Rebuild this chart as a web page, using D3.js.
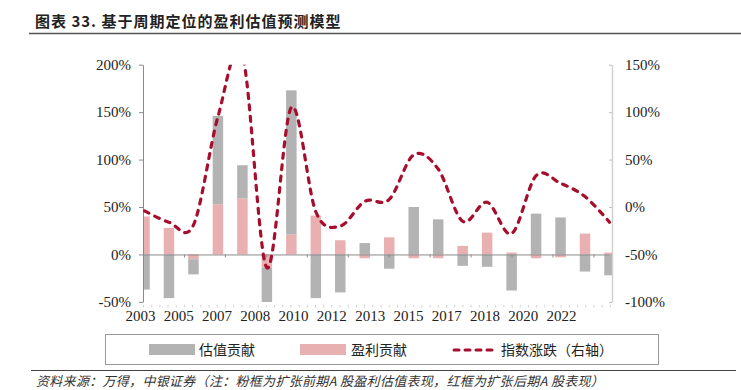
<!DOCTYPE html>
<html>
<head>
<meta charset="utf-8">
<script src="https://cdn.jsdelivr.net/npm/d3@7"></script>
<style>
  body { margin: 0; background: #fff; }
  svg { display: block; }
</style>
</head>
<body>
<svg id="chart" width="741" height="390"></svg>
<script>
// data
const years = ["2003", "2004", "2005", "2006", "2007", "2008", "2009", "2010", "2011", "2012",
  "2013", "2014", "2015", "2016", "2017", "2018", "2019", "2020", "2021", "2022"];
const valuation = [-37, -46, -16, 93, 35, -38, 152, -46, -40, 12, -15, 50, 37, -12, -13, -38, 43, 39, -18, -22];
const earnings = [40, 28, -5, 53, 59, -14, 21, 41, 15, -4, 18, -4, -4, 9, 23, 2, -4, -3, 22, 2];
const indexChg = [-4, -16, -19, 95, 160, -64, 105, -5, -20, 6, 8, 55, 40, -15, 5, -28, 33, 25, 11, -16];
const xLabels = ["2003", "2005", "2007", "2008", "2010", "2012", "2013", "2015", "2017", "2018", "2020", "2022"];
const leftTicks = [-50, 0, 50, 100, 150, 200];
const rightTicks = [-100, -50, 0, 50, 100, 150];

const svg = d3.select("#chart");
const plotL = 143, plotR = 612, plotT = 64.7, plotB = 301.9;

const yL = d3.scaleLinear().domain([-50, 200]).range([plotB, plotT]);
const yR = d3.scaleLinear().domain([-100, 150]).range([plotB, plotT]);
const x = d3.scalePoint().domain(years).range([144.5, 609.5]);
const barW = 10.5;

// title
svg.append("text")
  .attr("x", 35)
  .attr("y", 27)
  .attr("font-family", "Noto Sans CJK SC")
  .attr("font-weight", "bold")
  .attr("font-size", 15)
  .attr("letter-spacing", 1)
  .attr("fill", "#222")
  .text("图表 33. 基于周期定位的盈利估值预测模型");
svg.append("line")
  .attr("x1", 29).attr("x2", 741)
  .attr("y1", 33.5).attr("y2", 33.5)
  .attr("stroke", "#555")
  .attr("stroke-width", 1.5);

svg.append("clipPath").attr("id", "plot")
  .append("rect")
  .attr("x", plotL).attr("y", plotT)
  .attr("width", plotR - plotL).attr("height", plotB - plotT);

// stacked bars
const rows = years.map((y, i) => ({ year: y, earn: earnings[i], val: valuation[i] }));
const stack = d3.stack().keys(["earn", "val"]).offset(d3.stackOffsetDiverging)(rows);
const colors = { earn: "#e8b0b0", val: "#b3b3b3" };

const bars = svg.append("g").attr("clip-path", "url(#plot)");
stack.forEach(function(s) {
  bars.selectAll(null)
    .data(s)
    .join("rect")
    .attr("x", d => x(d.data.year) - barW / 2)
    .attr("width", barW)
    .attr("y", d => yL(Math.max(d[0], d[1])))
    .attr("height", d => Math.abs(yL(d[0]) - yL(d[1])))
    .attr("fill", colors[s.key]);
});

// zero line with small ticks
const tickScale = d3.scaleLinear().domain([0, (plotR - plotL) / 40.95]).range([plotL, plotR]);
svg.append("g")
  .attr("transform", `translate(0,${yL(0)})`)
  .call(d3.axisBottom(tickScale).tickValues(d3.range(1, 12)).tickSizeInner(3).tickSizeOuter(0).tickFormat(""))
  .call(g => g.select(".domain").attr("stroke", "#8a8a8a"))
  .call(g => g.selectAll(".tick line").attr("stroke", "#8a8a8a"));

// faint ticks along the bottom
svg.append("g")
  .attr("transform", `translate(0,${plotB + 3})`)
  .call(d3.axisBottom(tickScale).tickValues(d3.range(0, 11.46, 0.2)).tickSizeInner(2.5).tickSizeOuter(0).tickFormat(""))
  .call(g => g.select(".domain").remove())
  .call(g => g.selectAll(".tick line").attr("stroke", "#d0d0d0"));

// left axis
svg.append("g")
  .attr("transform", `translate(${plotL},0)`)
  .call(d3.axisLeft(yL).tickValues(leftTicks).tickFormat(d => d + "%").tickSizeInner(4).tickSizeOuter(0).tickPadding(8))
  .call(g => g.select(".domain").attr("stroke", "#8a8a8a"))
  .call(g => g.selectAll(".tick line").attr("stroke", "#8a8a8a"))
  .call(g => g.selectAll("text")
    .attr("font-family", "Liberation Serif")
    .attr("font-size", 15)
    .attr("fill", "#222"));

// right axis
svg.append("g")
  .attr("transform", `translate(${plotR},0)`)
  .call(d3.axisRight(yR).tickValues(rightTicks).tickFormat(d => d + "%").tickSizeInner(-3).tickSizeOuter(0).tickPadding(13))
  .call(g => g.select(".domain").attr("stroke", "#d0d0d0").attr("stroke-width", 1.5))
  .call(g => g.selectAll(".tick line").attr("stroke", "#c0c0c0"))
  .call(g => g.selectAll("text")
    .attr("font-family", "Liberation Serif")
    .attr("font-size", 15)
    .attr("fill", "#222"));

// year labels
const xLab = d3.scalePoint().domain(xLabels).range([140, 561]);
svg.append("g")
  .attr("transform", `translate(0,${plotB})`)
  .call(d3.axisBottom(xLab).tickSize(0).tickPadding(8))
  .call(g => g.select(".domain").remove())
  .call(g => g.selectAll("text")
    .attr("font-family", "Liberation Serif")
    .attr("font-size", 15)
    .attr("fill", "#222"));

// index line, right axis
const line = d3.line()
  .x((d, i) => x(years[i]))
  .y(d => yR(d))
  .curve(d3.curveCardinal.tension(0));

svg.append("path")
  .datum(indexChg)
  .attr("clip-path", "url(#plot)")
  .attr("d", line)
  .attr("fill", "none")
  .attr("stroke", "#a50f2d")
  .attr("stroke-width", 3.2)
  .attr("stroke-linecap", "round")
  .attr("stroke-dasharray", "5,6.5");

// legend
const lg = svg.append("g");
lg.append("rect")
  .attr("x", 105.5).attr("y", 334.5)
  .attr("width", 553).attr("height", 30)
  .attr("fill", "none")
  .attr("stroke", "#999");
lg.append("rect").attr("x", 149).attr("y", 344).attr("width", 46).attr("height", 11).attr("fill", colors.val);
lg.append("rect").attr("x", 300).attr("y", 344).attr("width", 46).attr("height", 11).attr("fill", colors.earn);
lg.append("line")
  .attr("x1", 454).attr("x2", 495)
  .attr("y1", 350).attr("y2", 350)
  .attr("stroke", "#a50f2d")
  .attr("stroke-width", 3)
  .attr("stroke-linecap", "round")
  .attr("stroke-dasharray", "5,6");
const legendText = [["估值贡献", 199], ["盈利贡献", 351], ["指数涨跌（右轴）", 501]];
legendText.forEach(function(t) {
  lg.append("text")
    .attr("x", t[1]).attr("y", 350)
    .attr("dy", "0.35em")
    .attr("font-family", "Noto Sans CJK SC")
    .attr("font-size", 14)
    .attr("fill", "#222")
    .text(t[0]);
});

// source note
svg.append("line")
  .attr("x1", 31).attr("x2", 736)
  .attr("y1", 370.5).attr("y2", 370.5)
  .attr("stroke", "#444")
  .attr("stroke-width", 1);
svg.append("text")
  .attr("x", 36).attr("y", 386)
  .attr("font-family", "Noto Sans CJK SC")
  .attr("font-size", 13)
  .attr("letter-spacing", 0.3)
  .attr("font-style", "italic")
  .attr("fill", "#333")
  .text("资料来源：万得，中银证券（注：粉框为扩张前期A 股盈利估值表现，红框为扩张后期A 股表现）");
</script>
</body>
</html>
